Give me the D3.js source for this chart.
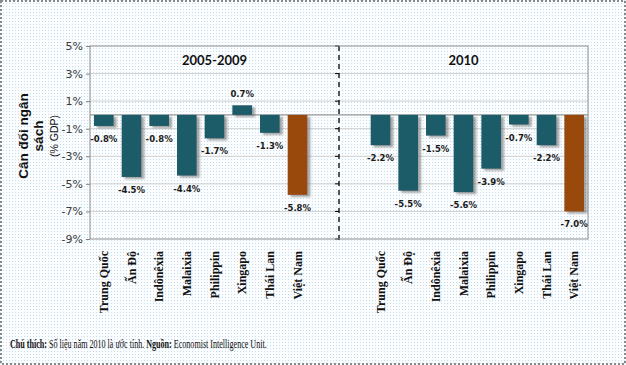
<!DOCTYPE html>
<html><head><meta charset="utf-8">
<script src="https://cdn.jsdelivr.net/npm/d3@7"></script>
<style>html,body{margin:0;padding:0;background:#fff;}svg{display:block;}</style>
</head><body>
<script>
const countries = ["Trung Quốc","Ấn Độ","Indônêxia","Malaixia","Philippin","Xingapo","Thái Lan","Việt Nam"];
const periods = ["2005-2009","2010"];
const values2005_2009 = [-0.8,-4.5,-0.8,-4.4,-1.7,0.7,-1.3,-5.8];
const values2010 = [-2.2,-5.5,-1.5,-5.6,-3.9,-0.7,-2.2,-7.0];
const yTicks = [5,3,1,-1,-3,-5,-7,-9];
const yTitle = ["Cân đối ngân","sách"];
const yUnit = "(% GDP)";
const note = "Số liệu năm 2010 là ước tính.";
const source = "Economist Intelligence Unit.";

const W = 626, H = 365;
const svg = d3.select("body").append("svg").attr("width",W).attr("height",H);
const defs = svg.append("defs");
const pat = defs.append("pattern").attr("id","bg").attr("width",3).attr("height",3).attr("patternUnits","userSpaceOnUse");
pat.append("rect").attr("width",3).attr("height",3).attr("fill","#fbfdfe");
pat.append("rect").attr("x",0).attr("y",0).attr("width",1).attr("height",1).attr("fill","#c4dceb");
const f = defs.append("filter").attr("id","sh").attr("x","-20%").attr("y","-20%").attr("width","160%").attr("height","160%");
f.append("feDropShadow").attr("dx",3).attr("dy",2).attr("stdDeviation",1.3).attr("flood-color","#6a6a6a").attr("flood-opacity",0.6);

svg.append("rect").attr("width",W).attr("height",H).attr("fill","url(#bg)");
svg.append("rect").attr("x",1).attr("y",1).attr("width",W-2).attr("height",H-2)
  .attr("fill","none").attr("stroke","#8a8a8a").attr("stroke-width",2).attr("stroke-dasharray","2,2");

// slots: 8 + 2 blank + 8
const slots = [];
countries.forEach((c,i)=>slots.push({key:"a"+i,name:c,v:values2005_2009[i],vn:c==="Việt Nam"}));
slots.push({key:"gap1"},{key:"gap2"});
countries.forEach((c,i)=>slots.push({key:"b"+i,name:c,v:values2010[i],vn:c==="Việt Nam"}));

const L=90, R=588, T=46, B=239;
const x = d3.scaleBand().domain(slots.map(d=>d.key)).range([L,R]).paddingInner(0.29).paddingOuter(0.145);
const y = d3.scaleLinear().domain([-9,5]).range([B,T]);

// plot area
svg.append("rect").attr("x",L).attr("y",T).attr("width",R-L).attr("height",B-T).attr("fill","url(#bg)");
// gridlines
svg.append("g").selectAll("line").data(yTicks.filter(t=>t!==5&&t!==-9)).join("line")
  .attr("x1",L).attr("x2",R).attr("y1",d=>y(d)).attr("y2",d=>y(d))
  .attr("stroke","#cfcfcf").attr("stroke-width",1);

// left axis
const ya = svg.append("g").attr("transform",`translate(${L},0)`)
  .call(d3.axisLeft(y).tickValues(yTicks).tickFormat(d=>d+"%").tickSize(4).tickPadding(3));
ya.select(".domain").remove();
ya.selectAll(".tick line").attr("stroke","#808080");
ya.selectAll(".tick text").attr("font-family","DejaVu Sans").attr("font-size","11px").attr("fill","#3a3a3a");

// divider
const midX = L + (R-L)/2;
svg.append("line").attr("x1",midX).attr("x2",midX).attr("y1",T).attr("y2",B+4)
  .attr("stroke","#000").attr("stroke-width",1.3).attr("stroke-dasharray","5,4");
svg.append("g").selectAll("line").data(yTicks).join("line")
  .attr("x1",midX-4).attr("x2",midX).attr("y1",d=>y(d)).attr("y2",d=>y(d)).attr("stroke","#000");

// zero line
svg.append("line").attr("x1",L).attr("x2",R).attr("y1",y(0)).attr("y2",y(0)).attr("stroke","#7f7f7f").attr("stroke-width",1);

// border
svg.append("rect").attr("x",L).attr("y",T).attr("width",R-L).attr("height",B-T)
  .attr("fill","none").attr("stroke","#8c8c8c").attr("stroke-width",1);

// bars
const bars = slots.filter(d=>d.name);
svg.append("g").selectAll("rect").data(bars).join("rect")
  .attr("x",d=>x(d.key)).attr("width",x.bandwidth())
  .attr("y",d=>y(Math.max(0,d.v))).attr("height",d=>Math.abs(y(d.v)-y(0)))
  .attr("fill",d=>d.vn?"#9a4910":"#1f5b69").attr("filter","url(#sh)");

// value labels
svg.append("g").selectAll("text").data(bars).join("text")
  .attr("x",d=>x(d.key)+x.bandwidth()/2)
  .attr("y",d=>d.v<0? y(d.v)+16 : y(d.v)-8)
  .attr("text-anchor","middle").attr("font-family","DejaVu Sans").attr("font-weight","bold")
  .attr("font-size","8.5px").attr("fill","#1a1a1a")
  .text(d=>d.v.toFixed(1)+"%");

// category labels
svg.append("g").selectAll("text").data(bars).join("text")
  .attr("transform",d=>`translate(${x(d.key)+x.bandwidth()/2+4},251) rotate(-90)`)
  .attr("text-anchor","end").attr("font-family","Liberation Serif").attr("font-weight","bold")
  .attr("font-size","12px").attr("fill","#111")
  .text(d=>d.name);

// period titles
[[periods[0],(L+midX)/2],[periods[1],(midX+R)/2]].forEach(([t,cx])=>{
  svg.append("text").attr("x",cx).attr("y",65).attr("text-anchor","middle")
    .attr("font-family","Lato").attr("font-weight","bold").attr("font-size","13px").attr("fill","#111").text(t);
});

// y title
const yt = svg.append("g").attr("transform","translate(0,136)");
yt.append("text").attr("transform","translate(28,0) rotate(-90)").attr("text-anchor","middle")
  .attr("font-family","Liberation Sans").attr("font-weight","bold").attr("font-size","13.5px").attr("fill","#111").text(yTitle[0]);
yt.append("text").attr("transform","translate(43,0) rotate(-90)").attr("text-anchor","middle")
  .attr("font-family","Liberation Sans").attr("font-weight","bold").attr("font-size","13.5px").attr("fill","#111").text(yTitle[1]);
yt.append("text").attr("transform","translate(58,0) rotate(-90)").attr("text-anchor","middle")
  .attr("font-family","Liberation Sans").attr("font-size","10.5px").attr("fill","#111").text(yUnit);

// footer (natural width measured, then compressed horizontally to match)
const fg = svg.append("g");
const ft = fg.append("text").attr("x",0).attr("y",0).attr("font-family","Liberation Serif")
  .attr("font-size","11.5px").attr("fill","#111");
ft.append("tspan").attr("font-weight","bold").text("Chú thích:");
ft.append("tspan").text(" " + note + " ");
ft.append("tspan").attr("font-weight","bold").text("Nguồn:");
ft.append("tspan").text(" " + source);
const nat = ft.node().getComputedTextLength();
fg.attr("transform",`translate(10,348) scale(${257/nat},1)`);
</script>
</body></html>
